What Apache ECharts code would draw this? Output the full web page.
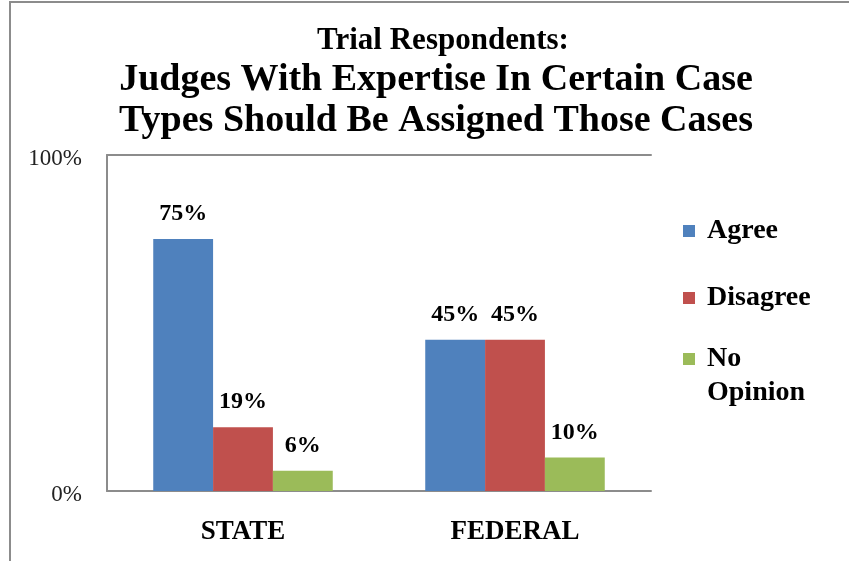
<!DOCTYPE html>
<html>
<head>
<meta charset="UTF-8">
<script src="https://cdn.jsdelivr.net/npm/echarts@6/dist/echarts.min.js"></script>
<style>
  html, body { margin: 0; padding: 0; background: #fff; }
  #chart { width: 849px; height: 561px; }
</style>
</head>
<body>
<div id="chart"></div>
<script>
const categories = ['STATE', 'FEDERAL'];
const agree = [75, 45];
const disagree = [19, 45];
const noOpinion = [6, 10];
const yTicks = [0, 100];

const serif = '"Liberation Serif", "DejaVu Serif", serif';
const chart = echarts.init(document.getElementById('chart'));

function barSeries(name, data, color) {
  return {
    name: name,
    type: 'bar',
    data: data,
    barGap: '0%',
    barCategoryGap: '34%',
    itemStyle: { color: color },
    label: {
      show: true,
      position: 'top',
      distance: 13,
      formatter: p => p.value + '%',
      fontFamily: serif,
      fontWeight: 'bold',
      fontSize: 24,
      color: '#000'
    }
  };
}

const legendText = { fontFamily: serif, fontWeight: 'bold', fontSize: 28, color: '#000', lineHeight: 34, padding: [0, 0, 0, 7] };

chart.setOption({
  animation: false,
  graphic: [
    {
      type: 'polyline',
      shape: { points: [[10, 561], [10, 2], [849, 2]] },
      style: { stroke: '#8c8c8c', lineWidth: 2, fill: null }
    }
  ],
  title: [
    {
      text: 'Trial Respondents:',
      left: 438, top: 20, textAlign: 'center',
      textStyle: { fontFamily: serif, fontWeight: 'bold', fontSize: 31, color: '#000' }
    },
    {
      text: 'Judges With Expertise In Certain Case\nTypes Should Be Assigned Those Cases',
      left: 431, top: 55, textAlign: 'center',
      textStyle: { fontFamily: serif, fontWeight: 'bold', fontSize: 38, lineHeight: 41, color: '#000' }
    }
  ],
  legend: [
    {
      orient: 'vertical',
      left: 678,
      top: 209,
      itemWidth: 12,
      itemHeight: 12,
      itemGap: 33,
      icon: 'rect',
      textStyle: legendText,
      data: ['Agree', 'Disagree']
    },
    {
      orient: 'vertical',
      left: 678,
      top: 303,
      itemWidth: 12,
      itemHeight: 12,
      icon: 'rect',
      // empty first line keeps the marker level with "No"
      formatter: name => '\n' + name,
      textStyle: legendText,
      data: ['No\nOpinion']
    }
  ],
  grid: { left: 107, top: 155, width: 544, height: 336 },
  xAxis: [
    {
      type: 'category',
      data: categories,
      axisLine: { lineStyle: { color: '#8c8c8c', width: 2 } },
      axisTick: { show: false },
      axisLabel: { margin: 28, fontFamily: serif, fontWeight: 'bold', fontSize: 27, color: '#000' }
    },
    {
      type: 'category',
      position: 'top',
      data: categories,
      axisLine: { lineStyle: { color: '#8c8c8c', width: 2 } },
      axisTick: { show: false },
      axisLabel: { show: false }
    }
  ],
  yAxis: {
    type: 'value',
    min: yTicks[0],
    max: yTicks[1],
    interval: 100,
    axisLine: { show: true, lineStyle: { color: '#8c8c8c', width: 2 } },
    axisTick: { show: false },
    splitLine: { show: false },
    axisLabel: {
      margin: 25,
      formatter: v => '{t|' + v + '%}',
      rich: {
        t: { fontFamily: serif, fontSize: 23, color: '#222', padding: [8, 0, 0, 0] }
      }
    }
  },
  series: [
    barSeries('Agree', agree, '#4f81bd'),
    barSeries('Disagree', disagree, '#c0504d'),
    barSeries('No\nOpinion', noOpinion, '#9bbb59')
  ]
});
</script>
</body>
</html>
